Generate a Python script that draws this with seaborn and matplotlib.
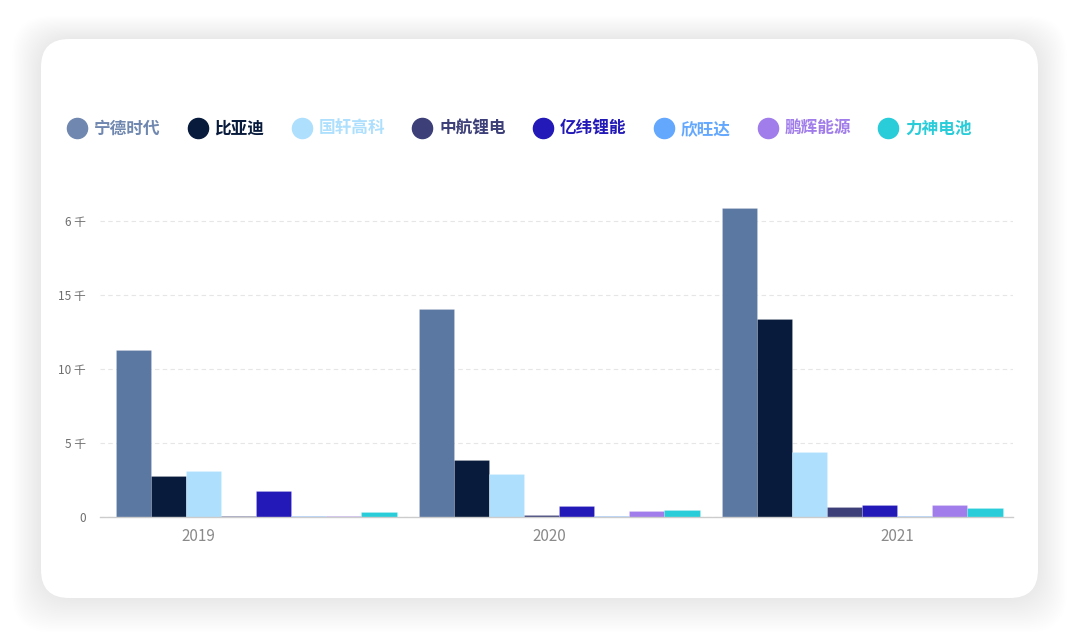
import matplotlib
matplotlib.use("Agg")
import matplotlib.pyplot as plt
import seaborn as sns
import pandas as pd
from matplotlib.patches import FancyBboxPatch
from matplotlib.lines import Line2D

years = ["2019", "2020", "2021"]
companies = ["宁德时代", "比亚迪", "国轩高科", "中航锂电", "亿纬锂能", "欣旺达", "鹏辉能源", "力神电池"]
v_catl = [11280, 14050, 20900]
v_byd = [2740, 3870, 13400]
v_gotion = [3080, 2900, 4410]
v_calb = [100, 130, 680]
v_eve = [1780, 760, 830]
v_sunwoda = [50, 50, 50]
v_great_power = [50, 420, 810]
v_lishen = [310, 470, 580]
colors = ["#5b78a3", "#081b3c", "#aee0fe", "#3c3f78", "#2319b8", "#64a8fe", "#a07dea", "#29ccd9"]
legend_colors = ["#7088b0", "#081b3c", "#aee0fe", "#3c3f78", "#2319b8", "#64a8fe", "#a07dea", "#29ccd9"]
ytick_vals = [0, 5000, 10000, 15000, 20000]
ytick_labels = ["0", "5 千", "10 千", "15 千", "6 千"]

series = [v_catl, v_byd, v_gotion, v_calb, v_eve, v_sunwoda, v_great_power, v_lishen]
rows = []
for c, vals in zip(companies, series):
    for y, v in zip(years, vals):
        rows.append({"year": y, "company": c, "value": v})
df = pd.DataFrame(rows)

sns.set_theme(style="white")
plt.rcParams["font.family"] = ["Noto Sans CJK SC", "DejaVu Sans"]

fig = plt.figure(figsize=(10.8, 6.42), dpi=100)
fig.patch.set_facecolor("white")

# card shadow
W, H = 1080, 642
for i in range(22, 0, -1):
    pad = i * 1.3
    sh = FancyBboxPatch(((41 - pad) / W, 1 - (598 + pad * 1.2) / H),
                        (997 + 2 * pad) / W, (559 + pad * 2.0) / H,
                        boxstyle="round,pad=0,rounding_size=0.035",
                        transform=fig.transFigure, facecolor="#2a2f70",
                        edgecolor="none", alpha=0.004, zorder=0,
                        mutation_aspect=W / H)
    fig.patches.append(sh)
card = FancyBboxPatch((41 / W, 1 - 598 / H), 997 / W, 559 / H,
                      boxstyle="round,pad=0,rounding_size=0.026",
                      transform=fig.transFigure, facecolor="white",
                      edgecolor="none", zorder=1, mutation_aspect=W / H)
fig.patches.append(card)

ax = fig.add_axes([100 / W, 1 - 517 / H, 913 / W, 317 / H])
ax.set_zorder(2)
ax.patch.set_alpha(0)
sns.barplot(data=df, x="year", y="value", hue="company", order=years,
            hue_order=companies, palette=colors, width=0.927, gap=0,
            saturation=1, ax=ax, legend=False, linewidth=0.6, edgecolor="#ffffff30")

ax.set_xlim(-0.515, 2.498)
ax.set_ylim(0, 21420)
ax.set_yticks(ytick_vals)
ax.set_yticklabels(ytick_labels, fontsize=8.5, color="#6e6e6e")
ax.set_xticks([-0.19, 0.967, 2.115])
ax.set_xticklabels(years, fontsize=11, color="#8a8a8a")
ax.tick_params(axis="x", length=0, pad=8)
ax.tick_params(axis="y", length=0, pad=10)
ax.set_xlabel("")
ax.set_ylabel("")
for s in ["top", "right", "left"]:
    ax.spines[s].set_visible(False)
ax.spines["bottom"].set_color("#cccccc")
ax.spines["bottom"].set_linewidth(1)
ax.yaxis.grid(True, linestyle=(0, (4, 3)), color="#e6e6e6", linewidth=0.8)
ax.set_axisbelow(True)

handles = [Line2D([0], [0], marker="o", linestyle="none", markersize=14.5,
                  markerfacecolor=c, markeredgecolor=c) for c in legend_colors]
leg = fig.legend(handles, companies, loc="center left",
                 bbox_to_anchor=(52 / W, 1 - 129 / H), ncol=8, frameon=False,
                 handletextpad=0.4, columnspacing=1.65, handlelength=1.2,
                 prop={"family": ["Noto Sans CJK SC", "DejaVu Sans"], "size": 12, "weight": "bold"})
for t, c in zip(leg.get_texts(), legend_colors):
    t.set_color(c)
leg.set_zorder(3)

fig.savefig("out.png", dpi=100, facecolor="white")
